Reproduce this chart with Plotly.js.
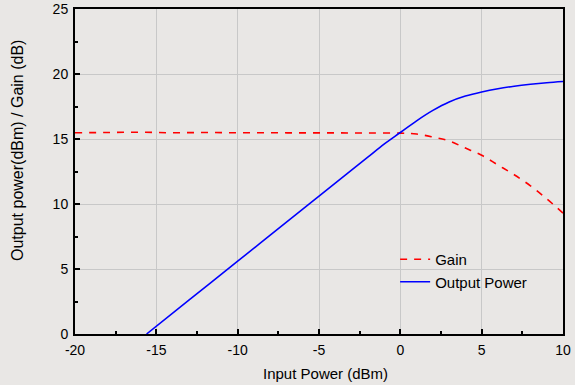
<!DOCTYPE html>
<html><head><meta charset="utf-8">
<script src="https://cdn.plot.ly/plotly-3.0.1.min.js"></script>
<style>body{margin:0;background:#E9E7E5}</style>
</head><body>
<div id="chart" style="width:575px;height:385px"></div>
<script>
const gainX = [-20,-18,-16,-14,-12,-10,-8,-6,-4,-2,0,1,2,3,4,5,6,7,8,9,10];
const gainY = [15.48,15.5,15.52,15.48,15.5,15.48,15.48,15.47,15.47,15.46,15.45,15.38,15.15,14.85,14.3,13.75,13.0,12.25,11.4,10.4,9.3];
const powX = [-15.6,-13,-10,-8,-6,-4,-2,-1,0,1,2,3,4,5,6,7,8,9,10];
const powY = [0,2.6,5.6,7.6,9.6,11.6,13.6,14.6,15.5,16.4,17.2,17.85,18.3,18.62,18.87,19.06,19.21,19.33,19.42];
const xTicks = [-20,-15,-10,-5,0,5,10];
const xTickText = ['-20','-15','-10','-5','0','5','10'];
const yTicks = [0,5,10,15,20,25];
const yTickText = ['0','5','10','15','20','25'];
const yTitle = 'Output power(dBm) / Gain (dB)';
const xTitle = 'Input Power (dBm)';

const traces = [
  {x: gainX, y: gainY, name: 'Gain', mode: 'lines', line: {color: '#FF0000', width: 1.6, dash: '7px,7px', shape: 'spline'}},
  {x: powX, y: powY, name: 'Output Power', mode: 'lines', line: {color: '#0000FF', width: 1.6, shape: 'spline'}}
];
const F = 'Arial, Liberation Sans, sans-serif';
const axBase = {
  showline: true, linecolor: '#000', linewidth: 2, mirror: true,
  ticks: 'inside', ticklen: 5, tickwidth: 2, tickcolor: '#000',
  showgrid: true, gridcolor: '#C8C8C8', gridwidth: 1, zeroline: false,
  tickfont: {family: F, size: 14, color: '#000'},
  tickmode: 'array'
};
const minorTicks = {ticks: 'inside', ticklen: 3, tickwidth: 2, tickcolor: '#000', showgrid: false, dtick: 2.5, tick0: 0};
const layout = {
  width: 575, height: 385,
  paper_bgcolor: '#E9E7E5', plot_bgcolor: '#E9E7E5',
  margin: {l: 75, r: 12, t: 9, b: 51},
  font: {family: F, size: 14, color: '#000'},
  xaxis: Object.assign({}, axBase, {range: [-20, 10], tickvals: xTicks, ticktext: xTickText, minor: minorTicks,
    ticklabelstandoff: 2}),
  yaxis: Object.assign({}, axBase, {range: [0, 25], tickvals: yTicks, ticktext: yTickText, minor: minorTicks,
    ticklabelstandoff: 2}),
  annotations: [
    {text: yTitle, textangle: -90, xref: 'paper', yref: 'paper', x: -0.119, y: 0.566,
     xanchor: 'center', yanchor: 'middle', showarrow: false, font: {family: F, size: 16, color: '#000'}},
    {text: xTitle, xref: 'paper', yref: 'paper', x: 0.514, y: -0.12,
     xanchor: 'center', yanchor: 'middle', showarrow: false, font: {family: F, size: 15, color: '#000'}}
  ],
  legend: {x: 0.656, y: 0.28, xanchor: 'left', yanchor: 'top', bgcolor: 'rgba(0,0,0,0)', font: {family: F, size: 15}, tracegroupgap: 0, itemwidth: 30},
  showlegend: true
};
Plotly.newPlot('chart', traces, layout, {displayModeBar: false, staticPlot: true});
</script>
</body></html>
